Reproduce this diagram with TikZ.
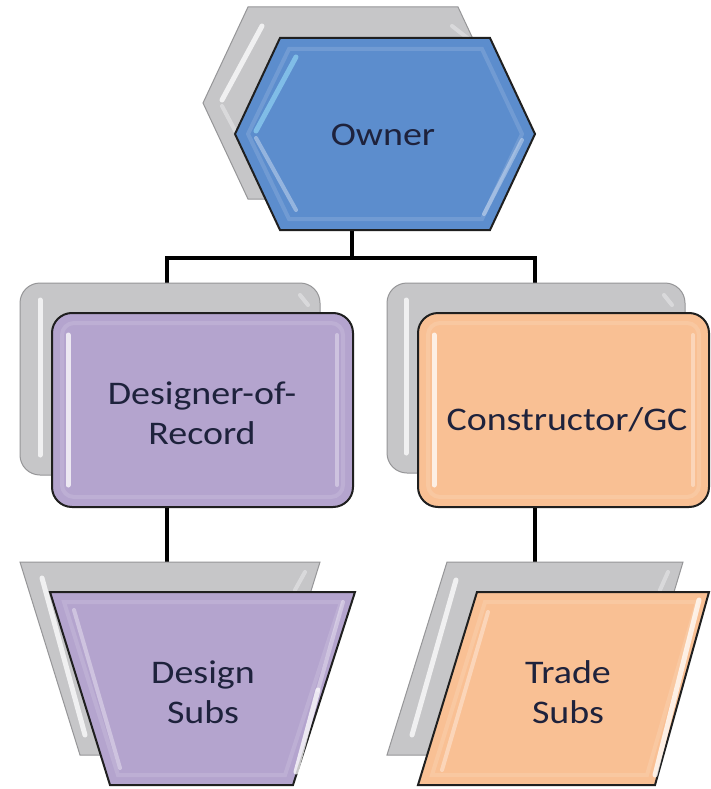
\documentclass[tikz,border=0pt]{standalone}
\usepackage{fontspec}
\newfontfamily\lblfont[FakeStretch=1.15]{Carlito}
\definecolor{ownerblue}{RGB}{92,141,205}
\definecolor{dorpurple}{RGB}{180,164,206}
\definecolor{gcorange}{RGB}{249,192,148}
\definecolor{backgray}{RGB}{198,198,200}
\definecolor{edgegray}{RGB}{150,150,152}
\definecolor{txtcol}{RGB}{30,34,60}
\tikzset{
  conn/.style={line width=4pt, draw=black},
  backshape/.style={fill=backgray, draw=edgegray, line width=1pt},
  frontshape/.style={draw=black!88, line width=2pt},
  bevel/.style={line width=4pt, draw=white, opacity=0.13},
  hilite/.style={line width=5pt, draw=white, opacity=0.75, line cap=round},
  softlite/.style={line width=4pt, draw=white, opacity=0.35, line cap=round},
  lbl/.style={font=\lblfont\fontsize{33}{40}\selectfont, align=center, text=txtcol, inner sep=0pt},
}
\begin{document}
\begin{tikzpicture}[x=1pt,y=-1pt]
\useasboundingbox (0,0) rectangle (710,789);
\fill[white] (0,0) rectangle (710,789);

% named anchor coordinates
\coordinate (ownerBot) at (352,230);
\coordinate (busL) at (167,258);
\coordinate (busR) at (535,258);
\coordinate (busM) at (352,258);
\coordinate (dorTop) at (167,313);
\coordinate (gcTop) at (535,313);
\coordinate (dorBot) at (167,507);
\coordinate (gcBot) at (535,507);
\coordinate (dsTop) at (167,592);
\coordinate (tsTop) at (535,592);

% connectors (behind shapes)
\draw[conn] (ownerBot) -- (busM);
\draw[conn, line cap=rect] (busL) -- (busR);
\draw[conn] (busL) -- (dorTop);
\draw[conn] (busR) -- (gcTop);
\draw[conn] (dorBot) -- (dsTop);
\draw[conn] (gcBot) -- (tsTop);

% ---------- Owner ----------
\draw[backshape] (248,7) -- (458,7) -- (503,103) -- (458,199) -- (248,199) -- (203,103) -- cycle;
\draw[hilite] (262,26) -- (222,100);
\draw[softlite] (222,106) -- (240,140);
\draw[softlite] (452,26) -- (470,40);
\draw[frontshape, fill=ownerblue] (280,38) -- (490,38) -- (535,134) -- (490,230) -- (280,230) -- (235,134) -- cycle;
\draw[bevel] (289,49) -- (482,49) -- (522,134) -- (482,219) -- (289,219) -- (248,134) -- cycle;
\draw[hilite, draw=white!60!cyan, opacity=0.6] (296,57) -- (256,131);
\draw[softlite] (256,138) -- (296,210);
\draw[softlite] (522,140) -- (484,214);

% ---------- Designer-of-Record ----------
\draw[backshape, rounded corners=20pt] (20,283) rectangle (320,475);
\draw[hilite] (40,300) -- (40,455);
\draw[softlite] (300,295) -- (308,305);
\draw[frontshape, fill=dorpurple, rounded corners=20pt] (52,313) rectangle (353,507);
\draw[bevel, rounded corners=12pt] (62,323) rectangle (343,497);
\draw[hilite] (68,335) -- (68,485);
\draw[softlite] (337,335) -- (337,485);

% ---------- Constructor/GC ----------
\draw[backshape, rounded corners=20pt] (387,283) rectangle (685,473);
\draw[hilite] (406,300) -- (406,453);
\draw[softlite] (664,295) -- (672,305);
\draw[frontshape, fill=gcorange, rounded corners=20pt] (418,313) rectangle (709,507);
\draw[bevel, rounded corners=12pt] (428,323) rectangle (699,497);
\draw[hilite] (434,335) -- (434,485);
\draw[softlite] (693,335) -- (693,485);

% ---------- Design Subs ----------
\draw[backshape] (20,562) -- (320,562) -- (260,755) -- (80,755) -- cycle;
\draw[hilite] (42,578) -- (85,735);
\draw[softlite] (305,572) -- (295,590);
\draw[frontshape, fill=dorpurple] (50,592) -- (355,592) -- (293,785) -- (110,785) -- cycle;
\draw[bevel] (64,602) -- (341,602) -- (285,775) -- (118,775) -- cycle;
\draw[softlite] (74,610) -- (120,768);
\draw[softlite] (343,602) -- (318,690);
\draw[hilite] (318,690) -- (296,772);

% ---------- Trade Subs ----------
\draw[backshape] (447,562) -- (683,562) -- (625,755) -- (387,755) -- cycle;
\draw[hilite] (456,580) -- (412,735);
\draw[softlite] (668,572) -- (660,590);
\draw[frontshape, fill=gcorange] (477,592) -- (709,592) -- (655,785) -- (418,785) -- cycle;
\draw[bevel] (485,602) -- (697,602) -- (647,775) -- (432,775) -- cycle;
\draw[softlite] (488,612) -- (442,770);
\draw[hilite] (699,600) -- (655,775);

% ---------- labels ----------
\node[lbl] (owner) at (383,135) {Owner};
\node[lbl] (dor) at (202,413) {Designer-of-\\Record};
\node[lbl] (gc) at (567,420) {Constructor/GC};
\node[lbl] (ds) at (203,692) {Design\\Subs};
\node[lbl] (ts) at (568,692) {Trade\\Subs};
\end{tikzpicture}
\end{document}
